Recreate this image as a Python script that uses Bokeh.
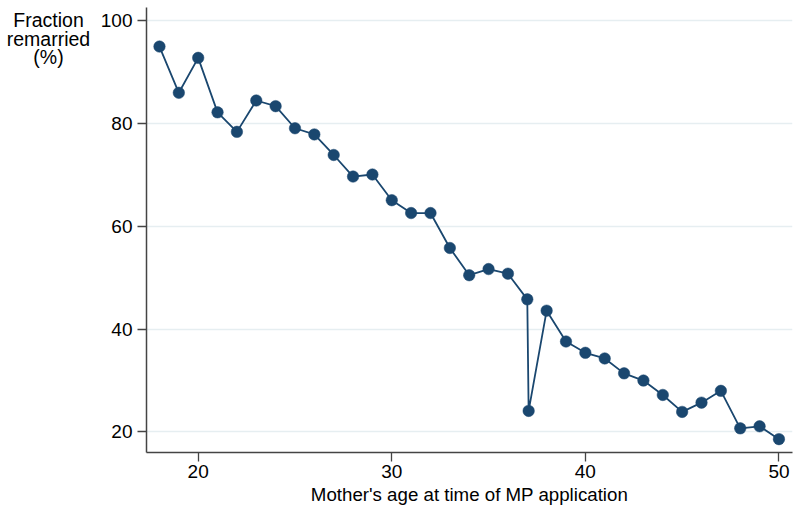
from bokeh.plotting import figure
from bokeh.models import ColumnDataSource, Range1d, FixedTicker
from bokeh.layouts import row
from bokeh.embed import file_html
from bokeh.resources import INLINE

# Data
age = [18, 19, 20, 21, 22, 23, 24, 25, 26, 27, 28, 29, 30, 31, 32, 33, 34, 35, 36,
       37, 37.07, 38, 39, 40, 41, 42, 43, 44, 45, 46, 47, 48, 49, 50]
frac_remarried = [95.0, 86.0, 92.8, 82.2, 78.4, 84.5, 83.4, 79.1, 77.9, 73.9, 69.7, 70.1,
                  65.1, 62.6, 62.6, 55.8, 50.5, 51.7, 50.8, 45.8, 24.1, 43.6, 37.6, 35.4,
                  34.3, 31.4, 30.0, 27.2, 23.9, 25.7, 28.0, 20.7, 21.1, 18.6]
x_ticks = [20, 30, 40, 50]
y_ticks = [20, 40, 60, 80, 100]
x_title = "Mother's age at time of MP application"
y_title_lines = ["Fraction", "remarried", "(%)"]

FONT = "Liberation Sans"
NAVY = "#1a476f"
AXIS = "#444444"

W, H = 794, 514
LW = 95                     # width of the side panel holding the y title
L, R, T, B = 146 - LW, 2, 7, 62
x0, x1 = 17.33, 50.7
y0, y1 = 16.0, 102.6

# side panel with the horizontal y-axis title; its frame is aligned with the
# main frame, so give it a pixel-like range (value = H - pixels from top)
baselines_px = [19.0, 38.0, 56.5]
side = figure(width=LW, height=H, output_backend="svg", toolbar_location=None,
              x_range=Range1d(0, LW), y_range=Range1d(B, H - T),
              min_border_left=0, min_border_right=0, min_border_top=T, min_border_bottom=B)
side.axis.visible = False
side.grid.visible = False
side.outline_line_color = None
side.text(x=[48] * 3, y=[H - b for b in baselines_px], text=y_title_lines,
          text_font={"value": FONT}, text_font_size={"value": "19.5px"},
          text_align="center", text_baseline="alphabetic", text_color="black")

p = figure(width=W - LW, height=H, output_backend="svg", toolbar_location=None,
           x_range=Range1d(x0, x1), y_range=Range1d(y0, y1),
           min_border_left=L, min_border_right=R, min_border_top=T, min_border_bottom=B)
p.outline_line_color = None
p.background_fill_color = "white"
p.border_fill_color = "white"

src = ColumnDataSource(dict(x=age, y=frac_remarried))
p.line("x", "y", source=src, line_color=NAVY, line_width=1.8)
p.scatter("x", "y", source=src, size=11.5, fill_color=NAVY, line_color=NAVY, line_width=0.5)

p.xgrid.grid_line_color = None
p.ygrid.grid_line_color = "#e6eef1"
p.ygrid.grid_line_width = 1.5

for ax, ticks in ((p.xaxis[0], x_ticks), (p.yaxis[0], y_ticks)):
    ax.ticker = FixedTicker(ticks=ticks)
    ax.minor_tick_line_color = None
    ax.major_tick_in = 0
    ax.major_tick_out = 9
    ax.major_tick_line_color = AXIS
    ax.major_tick_line_width = 1.3
    ax.axis_line_color = AXIS
    ax.axis_line_width = 1.5
    ax.major_label_text_font = FONT
    ax.major_label_text_font_size = "19px"
    ax.major_label_text_color = "black"

p.yaxis.major_label_standoff = 5
p.xaxis.major_label_standoff = 3
p.xaxis.axis_label = x_title
p.xaxis.axis_label_text_font = FONT
p.xaxis.axis_label_text_font_size = "18.7px"
p.xaxis.axis_label_text_font_style = "normal"
p.xaxis.axis_label_text_color = "black"
p.xaxis.axis_label_standoff = 3

layout = row(side, p)
open("out.html", "w").write(file_html(layout, INLINE))
